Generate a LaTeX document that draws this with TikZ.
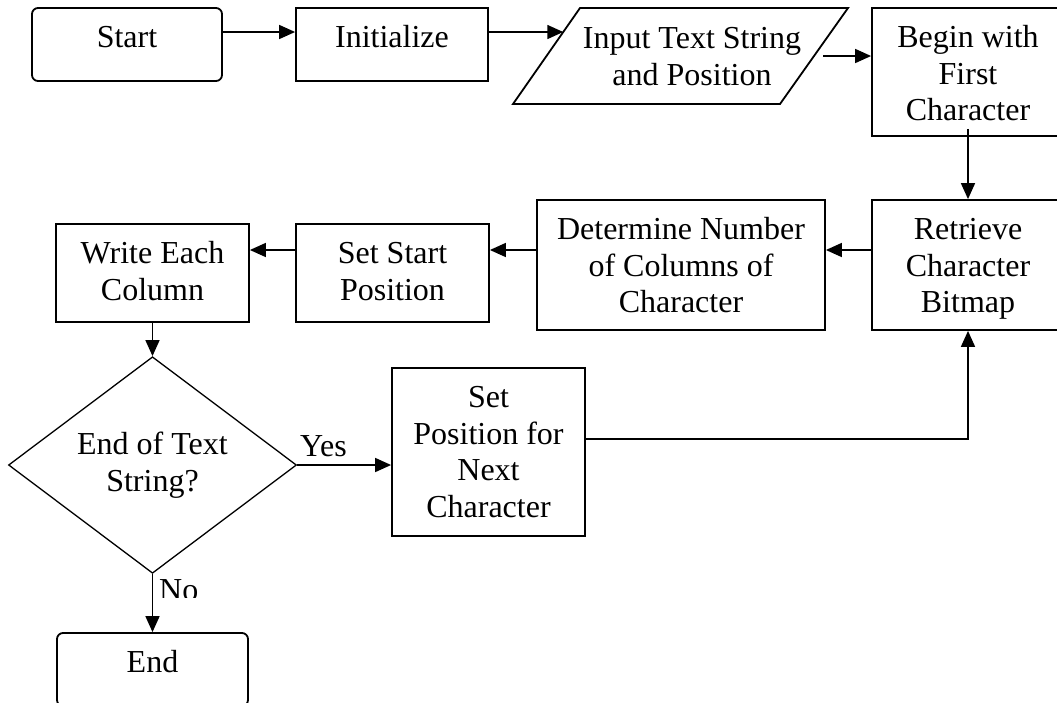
\documentclass[tikz,border=0pt]{standalone}
\usepackage{fontspec}
\setmainfont{Liberation Serif}
\usetikzlibrary{arrows.meta,shapes.geometric,calc}
\begin{document}
\begin{tikzpicture}[x=1pt,y=-1pt,
  every node/.style={font=\fontsize{32}{36.5}\selectfont},
  box/.style={draw, line width=1.8pt, rectangle, inner sep=0pt},
  term/.style={box, rounded corners=6pt},
  txt/.style={align=center, inner sep=0pt, anchor=north, yshift=-15pt},
  arr/.style={-{Triangle[length=16pt,width=14pt]}, line width=1.6pt},
  lbl/.style={anchor=base west, inner sep=0pt}
  ]
\useasboundingbox (0,0) rectangle (1057,702);
\clip (0,0) rectangle (1057,702);

% boxes
\node[term, minimum width=190pt, minimum height=73pt, label={[txt]north:\strut Start}] (start) at (127,44.5) {};
\node[box, minimum width=192pt, minimum height=73pt, label={[txt]north:\strut Initialize}] (init) at (392,44.5) {};
\node[box, minimum width=192pt, minimum height=128pt, label={[txt]north:\strut Begin with\\First\\Character}] (begin) at (968,72) {};
\node[box, minimum width=192pt, minimum height=130pt, label={[txt]north:\strut Retrieve\\Character\\Bitmap}] (retr) at (968,265) {};
\node[box, minimum width=288pt, minimum height=130pt, label={[txt]north:\strut Determine Number\\of Columns of\\Character}] (det) at (681,265) {};
\node[box, minimum width=193pt, minimum height=98pt, label={[txt]north:\strut Set Start\\Position}] (sets) at (392.5,273) {};
\node[box, minimum width=193pt, minimum height=98pt, label={[txt]north:\strut Write Each\\Column}] (write) at (152.5,273) {};
\node[draw, diamond, line width=1.3pt, minimum width=288pt, minimum height=192pt, inner sep=0pt, align=center] (dia) at (152.5,465) {End of Text\\String?};
\node[box, minimum width=193pt, minimum height=168pt, label={[txt]north:\strut Set\\Position for\\Next\\Character}] (setpos) at (488.5,452) {};
\node[term, minimum width=191pt, minimum height=73pt, label={[txt]north:\strut End}] (stop) at (152.5,669.5) {};

% input parallelogram
\coordinate (pA) at (580,8);
\coordinate (pB) at (848,8);
\coordinate (pC) at (780,104);
\coordinate (pD) at (513,104);
\draw[line width=1.8pt] (pA) -- (pB) -- (pC) -- (pD) -- cycle;
\node[txt] (input) at (692,8) {\strut Input Text String\\and Position};
\coordinate (inL) at ($(pA)!0.25!(pD)$);
\coordinate (inR) at ($(pB)!0.5!(pC)$);

% labels
\node[lbl] (yes) at (300,456) {Yes};
\begin{scope}
  \clip (150,560) rectangle (260,597.5);
  \node[lbl] (no) at (159,600) {No};
\end{scope}

% connectors
\draw[arr] ([yshift=12.5pt]start.east) -- ([yshift=12.5pt]init.west);
\draw[arr] ([yshift=12.5pt]init.east) -- (inL);
\draw[arr, shorten <=9pt] (inR) -- (inR -| begin.west);
\draw[arr] ([yshift=8pt]begin.south) -- (retr.north);
\draw[arr] ([yshift=15pt]retr.west) -- ([yshift=15pt]det.east);
\draw[arr] ([yshift=15pt]det.west) -- ([yshift=15pt]det.west -| sets.east);
\draw[arr] ([yshift=23pt]sets.west) -- ([yshift=23pt]write.east);
\draw[arr] (write.south) -- (dia.north);
\draw[arr] (dia.east) -- (dia.east -| setpos.west);
\draw[arr] ([yshift=13pt]setpos.east) -| (retr.south);
\draw[arr] (dia.south) -- (stop.north);
\end{tikzpicture}
\end{document}
